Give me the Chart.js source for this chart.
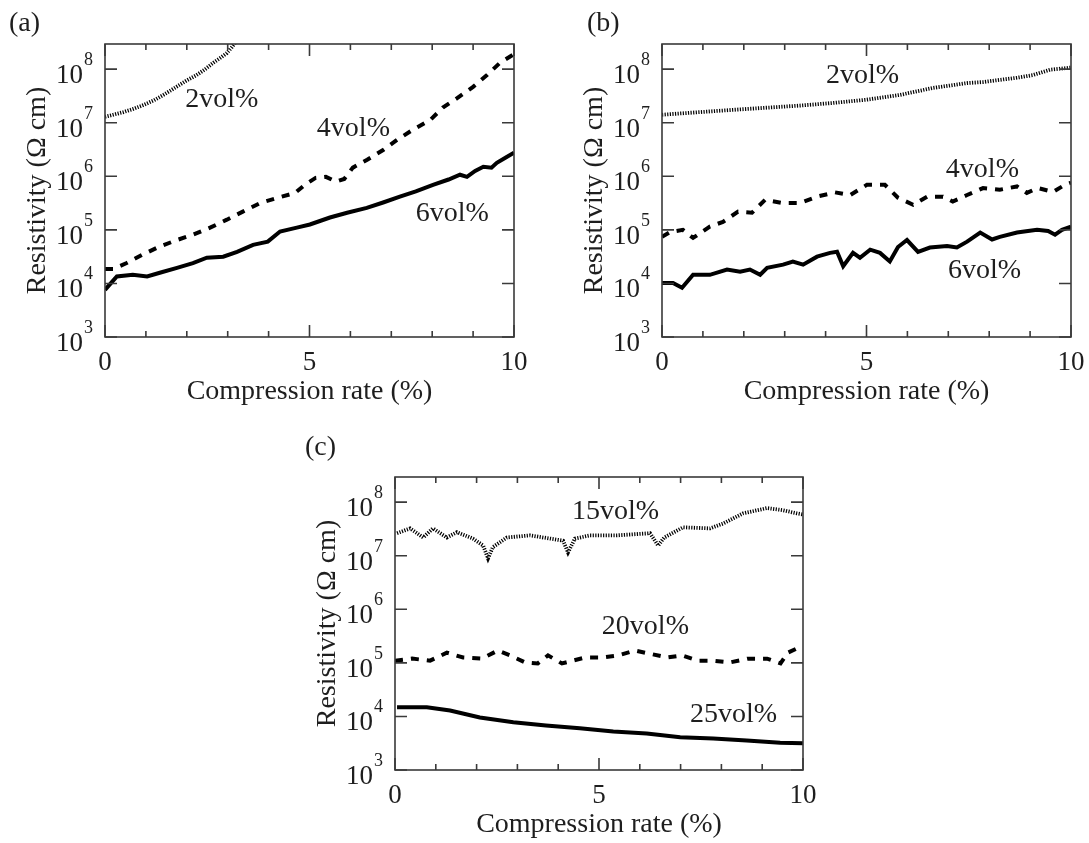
<!DOCTYPE html>
<html>
<head>
<meta charset="utf-8">
<script src="https://cdn.jsdelivr.net/npm/chart.js@4/dist/chart.umd.min.js"></script>
<style>
  html, body { margin: 0; padding: 0; background: #ffffff; }
  body { width: 1089px; height: 843px; position: relative; overflow: hidden; }
  canvas { position: absolute; }
</style>
</head>
<body>
<canvas id="panelA" width="545" height="420" style="left:0px;top:0px"></canvas>
<canvas id="panelB" width="544" height="420" style="left:545px;top:0px"></canvas>
<canvas id="panelC" width="600" height="428" style="left:250px;top:415px"></canvas>
<script>
// ---------------- DATA ----------------
// Axis ticks / labels
const xMajorTicks = [0, 5, 10];
const xMinorTicks = [1, 2, 3, 4, 6, 7, 8, 9];
const yTickPowers = [3, 4, 5, 6, 7, 8];
const xAxisTitle = 'Compression rate (%)';
const yAxisTitle = 'Resistivity (Ω cm)';

// Panel (a)
const a2volX = [0, 0.2, 0.45, 0.7, 0.94, 1.2, 1.43, 1.6, 1.83, 2.0, 2.24, 2.45, 2.65, 2.8, 2.98, 3.1, 3.18, 3.3];
const a2volY = [1.29e7, 1.41e7, 1.58e7, 1.82e7, 2.14e7, 2.63e7, 3.31e7, 3.98e7, 5.13e7, 6.17e7, 7.76e7, 1.0e8, 1.32e8, 1.58e8, 2.0e8, 2.57e8, 3.09e8, 4.17e8];
const a4volX = [0, 0.2, 0.53, 0.9, 1.34, 1.76, 2.15, 2.57, 2.98, 3.37, 3.79, 4.23, 4.65, 4.9, 5.15, 5.4, 5.65, 5.85, 6.06, 6.41, 6.8, 7.14, 7.53, 7.95, 8.26, 8.61, 9.0, 9.34, 9.66, 10];
const a4volY = [1.86e4, 1.86e4, 2.40e4, 3.39e4, 4.90e4, 6.46e4, 8.13e4, 1.10e5, 1.55e5, 2.19e5, 3.16e5, 3.98e5, 4.90e5, 7.08e5, 9.33e5, 9.77e5, 7.94e5, 8.91e5, 1.45e6, 2.04e6, 3.09e6, 4.79e6, 7.41e6, 1.12e7, 1.91e7, 2.88e7, 4.68e7, 7.76e7, 1.32e8, 1.91e8];
const a6volX = [0, 0.29, 0.68, 1.03, 1.34, 1.76, 2.15, 2.49, 2.89, 3.23, 3.62, 3.98, 4.28, 4.69, 5.01, 5.5, 5.92, 6.4, 6.8, 7.21, 7.6, 8.02, 8.4, 8.68, 8.85, 9.05, 9.25, 9.45, 9.58, 9.8, 10];
const a6volY = [7.59e3, 1.35e4, 1.45e4, 1.35e4, 1.58e4, 1.95e4, 2.40e4, 3.02e4, 3.16e4, 3.89e4, 5.25e4, 6.03e4, 9.33e4, 1.10e5, 1.26e5, 1.70e5, 2.09e5, 2.57e5, 3.24e5, 4.17e5, 5.25e5, 6.92e5, 8.71e5, 1.07e6, 9.77e5, 1.26e6, 1.51e6, 1.45e6, 1.78e6, 2.24e6, 2.75e6];

// Panel (b)
const b2volX = [0, 0.93, 1.74, 2.57, 3.37, 4.18, 5.0, 5.82, 6.63, 7.46, 7.85, 8.26, 8.68, 9.07, 9.49, 10];
const b2volY = [1.41e7, 1.58e7, 1.74e7, 1.91e7, 2.09e7, 2.34e7, 2.69e7, 3.31e7, 4.47e7, 5.50e7, 5.75e7, 6.31e7, 6.92e7, 7.76e7, 9.77e7, 1.07e8];
const b4volX = [0, 0.2, 0.51, 0.76, 1.17, 1.49, 1.86, 2.2, 2.52, 2.96, 3.37, 3.79, 4.23, 4.6, 5.01, 5.45, 5.77, 6.14, 6.48, 6.87, 7.11, 7.46, 7.85, 8.26, 8.68, 8.92, 9.19, 9.56, 9.85, 10];
const b4volY = [7.41e4, 9.12e4, 1.0e5, 7.08e4, 1.15e5, 1.41e5, 2.19e5, 2.09e5, 3.63e5, 3.16e5, 3.16e5, 4.17e5, 5.01e5, 4.47e5, 6.92e5, 6.92e5, 3.98e5, 2.95e5, 4.17e5, 4.17e5, 3.39e5, 4.47e5, 6.03e5, 5.62e5, 6.46e5, 4.90e5, 6.03e5, 5.13e5, 6.92e5, 7.59e5];
const b6volX = [0, 0.27, 0.49, 0.76, 1.17, 1.59, 1.91, 2.15, 2.4, 2.57, 2.96, 3.2, 3.45, 3.79, 4.11, 4.28, 4.43, 4.67, 4.84, 5.09, 5.33, 5.57, 5.77, 5.99, 6.26, 6.55, 6.97, 7.21, 7.46, 7.78, 8.07, 8.26, 8.68, 9.17, 9.44, 9.61, 9.78, 10];
const b6volY = [1.02e4, 1.02e4, 8.32e3, 1.45e4, 1.45e4, 1.82e4, 1.66e4, 1.82e4, 1.45e4, 1.95e4, 2.24e4, 2.57e4, 2.24e4, 3.16e4, 3.72e4, 3.89e4, 2.09e4, 3.72e4, 3.02e4, 4.27e4, 3.72e4, 2.57e4, 4.79e4, 6.46e4, 3.89e4, 4.68e4, 5.01e4, 4.68e4, 6.03e4, 8.91e4, 6.61e4, 7.41e4, 8.91e4, 1.0e5, 9.55e4, 8.13e4, 1.0e5, 1.15e5];

// Panel (c)
const c15volX = [0.05, 0.37, 0.69, 0.93, 1.27, 1.52, 1.91, 2.16, 2.28, 2.4, 2.74, 3.31, 3.8, 4.12, 4.24, 4.41, 4.78, 5.44, 6.25, 6.45, 6.6, 7.06, 7.72, 8.04, 8.53, 9.12, 9.51, 9.85, 10];
const c15volY = [2.63e7, 3.24e7, 2.19e7, 3.24e7, 2.19e7, 2.75e7, 2.09e7, 1.55e7, 8.91e6, 1.45e7, 2.19e7, 2.40e7, 2.09e7, 1.91e7, 1.15e7, 2.09e7, 2.40e7, 2.40e7, 2.63e7, 1.55e7, 2.19e7, 3.39e7, 3.24e7, 3.98e7, 6.17e7, 7.76e7, 7.08e7, 6.17e7, 5.89e7];
const c20volX = [0, 0.42, 0.86, 1.27, 1.67, 2.13, 2.52, 2.82, 3.19, 3.5, 3.75, 4.09, 4.36, 4.66, 5.07, 5.47, 5.88, 6.25, 6.67, 7.03, 7.43, 7.79, 8.21, 8.65, 9.12, 9.45, 9.63, 9.85];
const c20volY = [1.10e5, 1.20e5, 1.10e5, 1.55e5, 1.26e5, 1.20e5, 1.70e5, 1.38e5, 1.02e5, 9.77e4, 1.38e5, 9.77e4, 1.10e5, 1.26e5, 1.26e5, 1.38e5, 1.70e5, 1.48e5, 1.26e5, 1.38e5, 1.10e5, 1.10e5, 1.02e5, 1.20e5, 1.20e5, 9.77e4, 1.55e5, 1.86e5];
const c25volX = [0.05, 0.78, 1.35, 2.08, 2.9, 3.7, 4.53, 5.35, 6.17, 6.99, 7.8, 8.62, 9.44, 10];
const c25volY = [1.48e4, 1.48e4, 1.29e4, 9.55e3, 7.76e3, 6.76e3, 6.03e3, 5.25e3, 4.79e3, 4.07e3, 3.89e3, 3.55e3, 3.24e3, 3.16e3];

// ---------------- RENDERING ----------------
const SERIF = '"Liberation Serif", "Times New Roman", Times, serif';
const INK = '#1e1e1e';
const FRAME = '#3a3a3a';
const Y_MIN = 1e3, Y_MAX = 2.95e8;

function pts(xs, ys) { return xs.map((v, i) => ({ x: v, y: ys[i] })); }

const STYLE = {
  dotted: { borderWidth: 3.8, borderDash: [1.2, 1.4] },
  dashed: { borderWidth: 4, borderDash: [8, 8] },
  solid:  { borderWidth: 4, borderDash: [] }
};

function dataset(label, xs, ys, kind) {
  return Object.assign({
    label, data: pts(xs, ys), borderColor: '#000', backgroundColor: '#000',
    pointRadius: 0, tension: 0, fill: false, borderCapStyle: 'butt', borderJoinStyle: 'miter'
  }, STYLE[kind]);
}

const decorPlugin = {
  id: 'decor',
  afterDatasetsDraw(chart, args, o) {
    const { ctx, chartArea: a } = chart;
    const xs = chart.scales.x, ys = chart.scales.y;
    ctx.save();
    // frame
    ctx.strokeStyle = FRAME;
    ctx.lineWidth = 1.6;
    ctx.strokeRect(a.left, a.top, a.right - a.left, a.bottom - a.top);
    // y ticks (inward, both sides)
    ctx.beginPath();
    yTickPowers.forEach(p => {
      const py = ys.getPixelForValue(Math.pow(10, p));
      ctx.moveTo(a.left, py); ctx.lineTo(a.left + 12, py);
      ctx.moveTo(a.right, py); ctx.lineTo(a.right - 12, py);
    });
    // x ticks (inward, top & bottom)
    xMajorTicks.forEach(v => {
      const px = xs.getPixelForValue(v);
      ctx.moveTo(px, a.bottom); ctx.lineTo(px, a.bottom - 12);
      ctx.moveTo(px, a.top); ctx.lineTo(px, a.top + 12);
    });
    xMinorTicks.forEach(v => {
      const px = xs.getPixelForValue(v);
      ctx.moveTo(px, a.bottom); ctx.lineTo(px, a.bottom - 6);
      ctx.moveTo(px, a.top); ctx.lineTo(px, a.top + 6);
    });
    ctx.stroke();

    ctx.fillStyle = INK;
    // y tick labels 10^n
    yTickPowers.forEach(p => {
      const py = ys.getPixelForValue(Math.pow(10, p));
      ctx.font = '27px ' + SERIF;
      ctx.textAlign = 'right';
      ctx.textBaseline = 'alphabetic';
      ctx.fillText('10', a.left - 22, py + 14);
      ctx.font = '18px ' + SERIF;
      ctx.textAlign = 'left';
      ctx.fillText(String(p), a.left - 21, py - 4);
    });
    // x tick labels
    ctx.font = '27px ' + SERIF;
    ctx.textAlign = 'center';
    ctx.textBaseline = 'alphabetic';
    xMajorTicks.forEach(v => {
      ctx.fillText(String(v), xs.getPixelForValue(v), a.bottom + 33);
    });
    // x axis title
    ctx.font = '28px ' + SERIF;
    ctx.fillText(xAxisTitle, (a.left + a.right) / 2, a.bottom + 62);
    // y axis title
    ctx.save();
    ctx.translate(a.left - 67, (a.top + a.bottom) / 2);
    ctx.rotate(-Math.PI / 2);
    ctx.textAlign = 'center';
    ctx.textBaseline = 'middle';
    ctx.fillText(yAxisTitle, 0, 0);
    ctx.restore();
    // series annotations (placed in data coordinates)
    ctx.textAlign = 'left';
    ctx.textBaseline = 'alphabetic';
    ctx.font = '28px ' + SERIF;
    (o.notes || []).forEach(n => {
      ctx.fillText(n.text, xs.getPixelForValue(n.x), ys.getPixelForValue(n.y));
    });
    // panel label
    ctx.font = '28px ' + SERIF;
    ctx.fillText(o.panel.text, o.panel.px, o.panel.py);
    ctx.restore();
  }
};

function makeChart(id, datasets, padding, notes, panel) {
  return new Chart(document.getElementById(id), {
    type: 'line',
    data: { datasets },
    plugins: [decorPlugin],
    options: {
      responsive: false,
      animation: false,
      events: [],
      layout: { padding },
      plugins: {
        legend: { display: false },
        tooltip: { enabled: false },
        title: { display: false },
        decor: { notes, panel }
      },
      scales: {
        x: { type: 'linear', min: 0, max: 10, display: false },
        y: { type: 'logarithmic', min: Y_MIN, max: Y_MAX, display: false }
      }
    }
  });
}

makeChart('panelA', [
    dataset('2vol%', a2volX, a2volY, 'dotted'),
    dataset('4vol%', a4volX, a4volY, 'dashed'),
    dataset('6vol%', a6volX, a6volY, 'solid')
  ],
  { left: 105, top: 44, right: 31, bottom: 83 },
  [ { text: '2vol%', x: 1.96, y: Math.pow(10, 7.30) },
    { text: '4vol%', x: 5.18, y: Math.pow(10, 6.76) },
    { text: '6vol%', x: 7.60, y: Math.pow(10, 5.17) } ],
  { text: '(a)', px: 9, py: 31 });

makeChart('panelB', [
    dataset('2vol%', b2volX, b2volY, 'dotted'),
    dataset('4vol%', b4volX, b4volY, 'dashed'),
    dataset('6vol%', b6volX, b6volY, 'solid')
  ],
  { left: 117, top: 44, right: 18, bottom: 83 },
  [ { text: '2vol%', x: 4.01, y: Math.pow(10, 7.745) },
    { text: '4vol%', x: 6.94, y: Math.pow(10, 5.99) },
    { text: '6vol%', x: 6.99, y: Math.pow(10, 4.106) } ],
  { text: '(b)', px: 42, py: 31 });

makeChart('panelC', [
    dataset('15vol%', c15volX, c15volY, 'dotted'),
    dataset('20vol%', c20volX, c20volY, 'dashed'),
    dataset('25vol%', c25volX, c25volY, 'solid')
  ],
  { left: 145, top: 62, right: 47, bottom: 73 },
  [ { text: '15vol%', x: 4.34, y: Math.pow(10, 7.68) },
    { text: '20vol%', x: 5.07, y: Math.pow(10, 5.53) },
    { text: '25vol%', x: 7.23, y: Math.pow(10, 3.90) } ],
  { text: '(c)', px: 55, py: 40 });
</script>
